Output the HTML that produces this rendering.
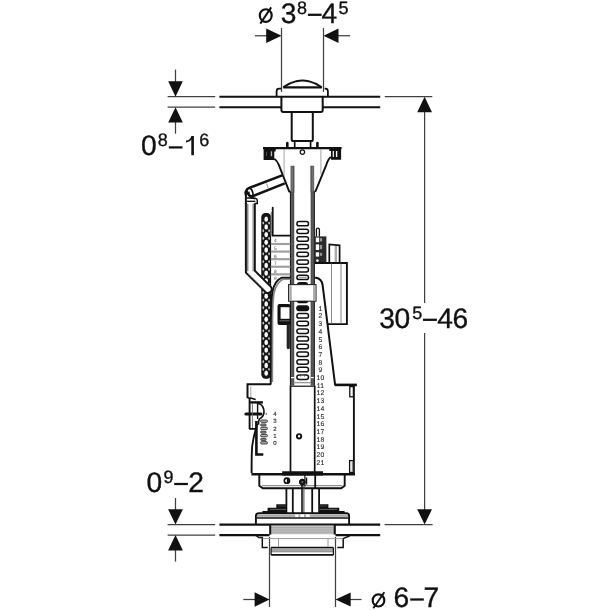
<!DOCTYPE html>
<html><head><meta charset="utf-8"><style>
html,body{margin:0;padding:0;background:#fff;}
svg{display:block;will-change:transform;}
text{font-family:"Liberation Sans",sans-serif;text-rendering:geometricPrecision;}
text.b{stroke:#111;stroke-width:0.35px;}
</style></head><body>
<svg width="610" height="610" viewBox="0 0 610 610">
<rect width="610" height="610" fill="#fff"/>
<line x1="254.9" y1="35.75" x2="267" y2="35.75" stroke="#404040" stroke-width="1.25" stroke-linecap="butt"/>
<polygon points="281.5,35.75 266.2,28.4 266.2,43.1" fill="#111"/>
<line x1="338" y1="35.75" x2="350.2" y2="35.75" stroke="#404040" stroke-width="1.25" stroke-linecap="butt"/>
<polygon points="323.5,35.75 338.5,28.4 338.5,43.1" fill="#111"/>
<line x1="281.5" y1="28.1" x2="281.5" y2="92" stroke="#404040" stroke-width="1.25" stroke-linecap="butt"/>
<line x1="323.5" y1="28.1" x2="323.5" y2="92" stroke="#404040" stroke-width="1.25" stroke-linecap="butt"/>
<line x1="167.6" y1="96.65" x2="215.2" y2="96.65" stroke="#404040" stroke-width="1.25" stroke-linecap="butt"/>
<line x1="167.6" y1="107.2" x2="215.2" y2="107.2" stroke="#404040" stroke-width="1.25" stroke-linecap="butt"/>
<line x1="167.6" y1="524.6" x2="215.2" y2="524.6" stroke="#404040" stroke-width="1.25" stroke-linecap="butt"/>
<line x1="167.6" y1="535.1" x2="215.2" y2="535.1" stroke="#404040" stroke-width="1.25" stroke-linecap="butt"/>
<line x1="219.4" y1="96.65" x2="380.2" y2="96.65" stroke="#111" stroke-width="2.05" stroke-linecap="butt"/>
<line x1="219.4" y1="107.2" x2="281.4" y2="107.2" stroke="#111" stroke-width="2.05" stroke-linecap="butt"/>
<line x1="322.7" y1="107.2" x2="380.2" y2="107.2" stroke="#111" stroke-width="2.05" stroke-linecap="butt"/>
<line x1="384.8" y1="96.65" x2="432.3" y2="96.65" stroke="#404040" stroke-width="1.25" stroke-linecap="butt"/>
<line x1="219.4" y1="524.6" x2="380.2" y2="524.6" stroke="#111" stroke-width="2.05" stroke-linecap="butt"/>
<line x1="219.4" y1="535.1" x2="269.5" y2="535.1" stroke="#111" stroke-width="2.05" stroke-linecap="butt"/>
<line x1="335.5" y1="535.1" x2="380.2" y2="535.1" stroke="#111" stroke-width="2.05" stroke-linecap="butt"/>
<line x1="384.6" y1="524.6" x2="432.6" y2="524.6" stroke="#404040" stroke-width="1.25" stroke-linecap="butt"/>
<line x1="175.5" y1="69.6" x2="175.5" y2="82" stroke="#404040" stroke-width="1.25" stroke-linecap="butt"/>
<polygon points="175.5,96.65 168.2,81.2 182.8,81.2" fill="#111"/>
<line x1="175.5" y1="121" x2="175.5" y2="133.7" stroke="#404040" stroke-width="1.25" stroke-linecap="butt"/>
<polygon points="175.5,107.2 168.2,122.6 182.8,122.6" fill="#111"/>
<line x1="175.5" y1="498" x2="175.5" y2="510" stroke="#404040" stroke-width="1.25" stroke-linecap="butt"/>
<polygon points="175.5,524.6 168.1,509.2 182.9,509.2" fill="#111"/>
<line x1="175.5" y1="549" x2="175.5" y2="561.6" stroke="#404040" stroke-width="1.25" stroke-linecap="butt"/>
<polygon points="175.5,535.1 168.1,550.5 182.9,550.5" fill="#111"/>
<line x1="424.6" y1="110" x2="424.6" y2="303" stroke="#404040" stroke-width="1.25" stroke-linecap="butt"/>
<line x1="424.6" y1="333" x2="424.6" y2="511" stroke="#404040" stroke-width="1.25" stroke-linecap="butt"/>
<polygon points="424.6,96.65 417.20000000000005,112.2 432.0,112.2" fill="#111"/>
<polygon points="424.6,524.6 417.20000000000005,509.3 432.0,509.3" fill="#111"/>
<line x1="269.5" y1="537" x2="269.5" y2="607" stroke="#404040" stroke-width="1.25" stroke-linecap="butt"/>
<line x1="335.5" y1="537" x2="335.5" y2="607" stroke="#404040" stroke-width="1.25" stroke-linecap="butt"/>
<line x1="243.3" y1="599.5" x2="256" y2="599.5" stroke="#404040" stroke-width="1.25" stroke-linecap="butt"/>
<polygon points="269.5,599.5 254.6,592.3 254.6,606.7" fill="#111"/>
<line x1="349" y1="599.5" x2="361.5" y2="599.5" stroke="#404040" stroke-width="1.25" stroke-linecap="butt"/>
<polygon points="335.5,599.5 350.7,592.5 350.7,606.5" fill="#111"/>
<ellipse cx="265.75" cy="15.55" rx="5.95" ry="6.3" fill="none" stroke="#111" stroke-width="2.15"/>
<line x1="260.3" y1="23.6" x2="271.2" y2="7.4" stroke="#111" stroke-width="1.9" stroke-linecap="butt"/>
<text x="280.63" y="23.1" font-size="28.2" fill="#111" text-anchor="start" class="b">3</text>
<text x="296.93" y="13.5" font-size="18.0" fill="#111" text-anchor="start" class="b">8</text>
<rect x="307.9" y="13.68" width="13.70" height="2.25" fill="#111"/>
<text x="321.55" y="23.1" font-size="28.2" fill="#111" text-anchor="start" class="b">4</text>
<text x="338.48" y="13.5" font-size="18.0" fill="#111" text-anchor="start" class="b">5</text>
<text x="140.9" y="155.3" font-size="28.2" fill="#111" text-anchor="start" class="b">0</text>
<text x="157.63" y="145.6" font-size="18.0" fill="#111" text-anchor="start" class="b">8</text>
<rect x="168.8" y="146.28" width="13.70" height="2.25" fill="#111"/>
<text x="199.28" y="145.6" font-size="18.0" fill="#111" text-anchor="start" class="b">6</text>
<path d="M191.3,155.2 L191.3,139.6 C190.2,141.4 188.4,142.2 186,142.5 L186,140.6 C189.1,140.2 190.6,138.6 191.4,135.9 L193.9,135.9 L193.9,155.2 Z" stroke="#111" stroke-width="0" fill="#111" />
<text x="379.33" y="328" font-size="28.2" fill="#111" text-anchor="start" class="b">3</text>
<text x="394.6" y="328" font-size="28.2" fill="#111" text-anchor="start" class="b">0</text>
<text x="412.28" y="318.5" font-size="18.0" fill="#111" text-anchor="start" class="b">5</text>
<rect x="423" y="318.68" width="13.90" height="2.25" fill="#111"/>
<text x="437.25" y="328" font-size="28.2" fill="#111" text-anchor="start" class="b">4</text>
<text x="452.46" y="328" font-size="28.2" fill="#111" text-anchor="start" class="b">6</text>
<text x="146.6" y="492.4" font-size="28.2" fill="#111" text-anchor="start" class="b">0</text>
<text x="163.45" y="482.8" font-size="18.0" fill="#111" text-anchor="start" class="b">9</text>
<rect x="174.2" y="482.88" width="13.70" height="2.25" fill="#111"/>
<text x="188.19" y="492.4" font-size="28.2" fill="#111" text-anchor="start" class="b">2</text>
<ellipse cx="378.5" cy="600.4" rx="5.8" ry="6.1" fill="none" stroke="#111" stroke-width="2.15"/>
<line x1="373.3" y1="608.2" x2="384.3" y2="592.3" stroke="#111" stroke-width="1.9" stroke-linecap="butt"/>
<text x="393.46" y="607.1" font-size="28.2" fill="#111" text-anchor="start" class="b">6</text>
<rect x="410.2" y="598.38" width="13.60" height="2.25" fill="#111"/>
<text x="423.56" y="607.1" font-size="28.2" fill="#111" text-anchor="start" class="b">7</text>
<path d="M283.2,87.2 Q290,82.8 296.4,81.2 Q302.5,79.9 308.6,81.2 Q315,82.8 321.8,87.2" stroke="#111" stroke-width="1.9" fill="#fff" />
<line x1="283.2" y1="87.3" x2="321.8" y2="87.3" stroke="#111" stroke-width="2.2" stroke-linecap="butt"/>
<path d="M276.6,96 L276.6,91.2 Q276.6,88.7 279.1,88.7 L281.2,88.7" stroke="#111" stroke-width="1.8" fill="none" />
<path d="M324.6,88.7 L325.4,88.7 Q327.9,88.7 327.9,91.2 L327.9,96" stroke="#111" stroke-width="1.8" fill="none" />
<path d="M281.4,96.4 L281.4,110 Q281.4,112 283.4,112 L320.7,112 Q322.7,112 322.7,110 L322.7,96.4" stroke="#111" stroke-width="2.0" fill="none" />
<path d="M291.7,112 L291.7,139.4 Q291.7,141 293.3,141 L311.2,141 Q312.8,141 312.8,139.4 L312.8,112" stroke="#111" stroke-width="2.0" fill="none" />
<path d="M294.7,141 L294.7,147.8 M310.6,141 L310.6,147.8" stroke="#111" stroke-width="1.7" fill="none" />
<line x1="287.3" y1="143" x2="287.3" y2="147.8" stroke="#111" stroke-width="2.6" stroke-linecap="round"/>
<line x1="317.4" y1="143" x2="317.4" y2="147.8" stroke="#111" stroke-width="2.6" stroke-linecap="round"/>
<line x1="263" y1="148.2" x2="341.6" y2="148.2" stroke="#111" stroke-width="2.2" stroke-linecap="butt"/>
<path d="M263.6,148.2 L263.6,160 L274.3,160 L274.3,151.5 L275.7,151.5 L275.7,148.2 Z" stroke="#111" stroke-width="0" fill="#111" />
<rect x="270.8" y="151.3" width="1.3" height="5" rx="0" fill="#bbb" stroke="none" stroke-width="0"/>
<rect x="266" y="152" width="0.8" height="4" rx="0" fill="#555" stroke="none" stroke-width="0"/>
<path d="M329.3,148.2 L341.1,148.2 L341.1,159.7 L331,159.7 L331,151 L329.3,151 Z" stroke="#111" stroke-width="0" fill="#111" />
<rect x="332.7" y="151" width="1.2" height="6" rx="0" fill="#fff" stroke="none" stroke-width="0"/>
<rect x="335.9" y="151" width="1.4" height="6" rx="0" fill="#fff" stroke="none" stroke-width="0"/>
<path d="M274.3,158.8 Q277,160.5 278.7,164.6 L289.2,191.4 L290.5,191.9" stroke="#111" stroke-width="1.9" fill="none" />
<path d="M331,157 Q328,159 326.4,164.6 L315.6,191.1 L314.4,191.6" stroke="#111" stroke-width="1.9" fill="none" />
<line x1="284.1" y1="149.2" x2="284.1" y2="176" stroke="#999" stroke-width="0.9" stroke-linecap="butt"/>
<line x1="320.9" y1="149.2" x2="320.9" y2="174.4" stroke="#999" stroke-width="0.9" stroke-linecap="butt"/>
<circle cx="302.4" cy="152.1" r="2.2" fill="#fff" stroke="#111" stroke-width="1.2"/>
<rect x="290.0" y="191.5" width="4.0" height="194" rx="0" fill="#5a5a5a" stroke="none" stroke-width="0"/>
<rect x="290.9" y="166" width="3.1" height="26" rx="0" fill="#707070" stroke="#444" stroke-width="0.5"/>
<rect x="289.9" y="191.5" width="1.1" height="194" rx="0" fill="#1a1a1a" stroke="none" stroke-width="0"/>
<rect x="310.9" y="191.5" width="3.9" height="194" rx="0" fill="#5a5a5a" stroke="none" stroke-width="0"/>
<rect x="310.9" y="166" width="3.0" height="26" rx="0" fill="#707070" stroke="#444" stroke-width="0.5"/>
<rect x="313.8" y="191.5" width="1.0" height="194" rx="0" fill="#1a1a1a" stroke="none" stroke-width="0"/>
<line x1="293.9" y1="166" x2="293.9" y2="385.5" stroke="#333" stroke-width="0.5" stroke-linecap="butt"/>
<line x1="311.0" y1="166" x2="311.0" y2="385.5" stroke="#333" stroke-width="0.5" stroke-linecap="butt"/>
<rect x="296.9" y="221.5" width="11.6" height="4.3" rx="2.15" fill="#fff" stroke="#111" stroke-width="1.5"/>
<rect x="296.9" y="229.18" width="11.6" height="4.3" rx="2.15" fill="#fff" stroke="#111" stroke-width="1.5"/>
<rect x="296.9" y="236.86" width="11.6" height="4.3" rx="2.15" fill="#fff" stroke="#111" stroke-width="1.5"/>
<rect x="296.9" y="244.54" width="11.6" height="4.3" rx="2.15" fill="#fff" stroke="#111" stroke-width="1.5"/>
<rect x="296.9" y="252.22" width="11.6" height="4.3" rx="2.15" fill="#fff" stroke="#111" stroke-width="1.5"/>
<rect x="296.9" y="259.9" width="11.6" height="4.3" rx="2.15" fill="#fff" stroke="#111" stroke-width="1.5"/>
<rect x="296.9" y="267.58" width="11.6" height="4.3" rx="2.15" fill="#fff" stroke="#111" stroke-width="1.5"/>
<rect x="296.9" y="275.26" width="11.6" height="4.3" rx="2.15" fill="#fff" stroke="#111" stroke-width="1.5"/>
<line x1="298.5" y1="277.3" x2="306.8" y2="277.3" stroke="#777" stroke-width="0.9" stroke-linecap="butt"/>
<path d="M296.7,285 Q296.9,282 300,282 L305,282 Q308.2,282 308.2,285 Z" stroke="#111" stroke-width="0" fill="#111" />
<rect x="288.6" y="284.6" width="27.4" height="16.6" rx="0" fill="#fff" stroke="#222" stroke-width="1.1"/>
<rect x="289.3" y="285.2" width="2.4" height="15.4" rx="0" fill="#a8a8a8" stroke="none" stroke-width="0"/>
<rect x="313.1" y="285.2" width="2.5" height="15.4" rx="0" fill="#a8a8a8" stroke="none" stroke-width="0"/>
<path d="M296.7,301 Q296.9,303.3 300,303.3 L305,303.3 Q308.2,303.3 308.2,301 Z" stroke="#111" stroke-width="0" fill="#111" />
<rect x="296.9" y="305.9" width="11.6" height="4.5" rx="2.2" fill="#111" stroke="#111" stroke-width="1.5"/>
<rect x="296.9" y="313.58" width="11.6" height="4.5" rx="2.2" fill="#fff" stroke="#111" stroke-width="1.5"/>
<rect x="296.9" y="321.26" width="11.6" height="4.5" rx="2.2" fill="#fff" stroke="#111" stroke-width="1.5"/>
<rect x="296.9" y="328.94" width="11.6" height="4.5" rx="2.2" fill="#fff" stroke="#111" stroke-width="1.5"/>
<rect x="296.9" y="336.62" width="11.6" height="4.5" rx="2.2" fill="#fff" stroke="#111" stroke-width="1.5"/>
<rect x="296.9" y="344.29999999999995" width="11.6" height="4.5" rx="2.2" fill="#fff" stroke="#111" stroke-width="1.5"/>
<rect x="296.9" y="351.97999999999996" width="11.6" height="4.5" rx="2.2" fill="#fff" stroke="#111" stroke-width="1.5"/>
<rect x="296.9" y="359.65999999999997" width="11.6" height="4.5" rx="2.2" fill="#fff" stroke="#111" stroke-width="1.5"/>
<rect x="296.9" y="367.34" width="11.6" height="4.5" rx="2.2" fill="#fff" stroke="#111" stroke-width="1.5"/>
<rect x="296.9" y="375.02" width="11.6" height="4.5" rx="2.2" fill="#fff" stroke="#111" stroke-width="1.5"/>
<line x1="293.5" y1="382.6" x2="311" y2="382.6" stroke="#9a9a9a" stroke-width="1.4" stroke-linecap="butt"/>
<rect x="291" y="377" width="3" height="1.2" rx="0" fill="#fff" stroke="none" stroke-width="0"/>
<rect x="311" y="377" width="2.8" height="1.2" rx="0" fill="#fff" stroke="none" stroke-width="0"/>
<path d="M300.5,376.6 L302.6,374.6 L304.7,376.6" stroke="#777" stroke-width="1.0" fill="none" />
<text x="320.4" y="310.75" font-size="6.8" fill="#262626" text-anchor="middle" stroke="#262626" stroke-width="0.1">1</text>
<text x="320.4" y="318.45" font-size="6.8" fill="#262626" text-anchor="middle" stroke="#262626" stroke-width="0.1">2</text>
<text x="320.4" y="326.15" font-size="6.8" fill="#262626" text-anchor="middle" stroke="#262626" stroke-width="0.1">3</text>
<text x="320.4" y="333.85" font-size="6.8" fill="#262626" text-anchor="middle" stroke="#262626" stroke-width="0.1">4</text>
<text x="320.4" y="341.55" font-size="6.8" fill="#262626" text-anchor="middle" stroke="#262626" stroke-width="0.1">5</text>
<text x="320.4" y="349.25" font-size="6.8" fill="#262626" text-anchor="middle" stroke="#262626" stroke-width="0.1">6</text>
<text x="320.4" y="356.95" font-size="6.8" fill="#262626" text-anchor="middle" stroke="#262626" stroke-width="0.1">7</text>
<text x="320.4" y="364.65" font-size="6.8" fill="#262626" text-anchor="middle" stroke="#262626" stroke-width="0.1">8</text>
<text x="320.4" y="372.35" font-size="6.8" fill="#262626" text-anchor="middle" stroke="#262626" stroke-width="0.1">9</text>
<text x="320.4" y="380.05" font-size="6.8" fill="#262626" text-anchor="middle" stroke="#262626" stroke-width="0.1">10</text>
<text x="320.4" y="387.75" font-size="6.8" fill="#262626" text-anchor="middle" stroke="#262626" stroke-width="0.1">11</text>
<text x="320.4" y="395.45" font-size="6.8" fill="#262626" text-anchor="middle" stroke="#262626" stroke-width="0.1">12</text>
<text x="320.4" y="403.15000000000003" font-size="6.8" fill="#262626" text-anchor="middle" stroke="#262626" stroke-width="0.1">13</text>
<text x="320.4" y="410.85" font-size="6.8" fill="#262626" text-anchor="middle" stroke="#262626" stroke-width="0.1">14</text>
<text x="320.4" y="418.55" font-size="6.8" fill="#262626" text-anchor="middle" stroke="#262626" stroke-width="0.1">15</text>
<text x="320.4" y="426.25" font-size="6.8" fill="#262626" text-anchor="middle" stroke="#262626" stroke-width="0.1">16</text>
<text x="320.4" y="433.95" font-size="6.8" fill="#262626" text-anchor="middle" stroke="#262626" stroke-width="0.1">17</text>
<text x="320.4" y="441.65000000000003" font-size="6.8" fill="#262626" text-anchor="middle" stroke="#262626" stroke-width="0.1">18</text>
<text x="320.4" y="449.34999999999997" font-size="6.8" fill="#262626" text-anchor="middle" stroke="#262626" stroke-width="0.1">19</text>
<text x="320.4" y="457.05" font-size="6.8" fill="#262626" text-anchor="middle" stroke="#262626" stroke-width="0.1">20</text>
<text x="320.4" y="464.75" font-size="6.8" fill="#262626" text-anchor="middle" stroke="#262626" stroke-width="0.1">21</text>
<path d="M282.8,175.2 L249.2,187.9 C245.4,189.4 245.2,193.5 246.2,195 M248.3,191.6 C248.4,195.6 250.4,196.8 252.6,196.2 L284.8,183.4" stroke="#111" stroke-width="2.5" fill="none" />
<path d="M249.9,196.4 Q252.5,198.6 255.2,198.7" stroke="#111" stroke-width="1.4" fill="none" />
<ellipse cx="250.0" cy="192.3" rx="2.6" ry="4.3" transform="rotate(-22 250.0 192.3)" fill="none" stroke="#111" stroke-width="1.6"/>
<line x1="266.6" y1="183.4" x2="268.3" y2="188.6" stroke="#777" stroke-width="0.8" stroke-linecap="butt"/>
<path d="M247.0,198.0 Q251,197.9 255.2,198.3 Q257.3,198.7 257.3,200.6 L257.3,203.4 L255.0,203.4" stroke="#111" stroke-width="1.5" fill="none" />
<line x1="246.9" y1="201.3" x2="255.4" y2="201.3" stroke="#111" stroke-width="1.3" stroke-linecap="butt"/>
<rect x="261.9" y="213.6" width="8.6" height="164.6" rx="3.6" fill="#161616" stroke="#111" stroke-width="1.2"/>
<ellipse cx="266.2" cy="219.20" rx="1.8" ry="2.65" fill="#fff"/>
<ellipse cx="263.3" cy="223.05" rx="0.9" ry="1.4" fill="#c4c4c4"/>
<ellipse cx="269.1" cy="223.05" rx="0.9" ry="1.4" fill="#c4c4c4"/>
<ellipse cx="266.2" cy="226.90" rx="1.8" ry="2.65" fill="#fff"/>
<ellipse cx="263.3" cy="230.75" rx="0.9" ry="1.4" fill="#c4c4c4"/>
<ellipse cx="269.1" cy="230.75" rx="0.9" ry="1.4" fill="#c4c4c4"/>
<ellipse cx="266.2" cy="234.60" rx="1.8" ry="2.65" fill="#fff"/>
<ellipse cx="263.3" cy="238.45" rx="0.9" ry="1.4" fill="#c4c4c4"/>
<ellipse cx="269.1" cy="238.45" rx="0.9" ry="1.4" fill="#c4c4c4"/>
<ellipse cx="266.2" cy="242.30" rx="1.8" ry="2.65" fill="#fff"/>
<ellipse cx="263.3" cy="246.15" rx="0.9" ry="1.4" fill="#c4c4c4"/>
<ellipse cx="269.1" cy="246.15" rx="0.9" ry="1.4" fill="#c4c4c4"/>
<ellipse cx="266.2" cy="250.00" rx="1.8" ry="2.65" fill="#fff"/>
<ellipse cx="263.3" cy="253.85" rx="0.9" ry="1.4" fill="#c4c4c4"/>
<ellipse cx="269.1" cy="253.85" rx="0.9" ry="1.4" fill="#c4c4c4"/>
<ellipse cx="266.2" cy="257.70" rx="1.8" ry="2.65" fill="#fff"/>
<ellipse cx="263.3" cy="261.55" rx="0.9" ry="1.4" fill="#c4c4c4"/>
<ellipse cx="269.1" cy="261.55" rx="0.9" ry="1.4" fill="#c4c4c4"/>
<ellipse cx="266.2" cy="265.40" rx="1.8" ry="2.65" fill="#fff"/>
<ellipse cx="263.3" cy="269.25" rx="0.9" ry="1.4" fill="#c4c4c4"/>
<ellipse cx="269.1" cy="269.25" rx="0.9" ry="1.4" fill="#c4c4c4"/>
<ellipse cx="266.2" cy="273.10" rx="1.8" ry="2.65" fill="#fff"/>
<ellipse cx="263.3" cy="276.95" rx="0.9" ry="1.4" fill="#c4c4c4"/>
<ellipse cx="269.1" cy="276.95" rx="0.9" ry="1.4" fill="#c4c4c4"/>
<ellipse cx="266.2" cy="280.80" rx="1.8" ry="2.65" fill="#fff"/>
<ellipse cx="263.3" cy="284.65" rx="0.9" ry="1.4" fill="#c4c4c4"/>
<ellipse cx="269.1" cy="284.65" rx="0.9" ry="1.4" fill="#c4c4c4"/>
<ellipse cx="266.2" cy="288.50" rx="1.8" ry="2.65" fill="#fff"/>
<ellipse cx="263.3" cy="292.35" rx="0.9" ry="1.4" fill="#c4c4c4"/>
<ellipse cx="269.1" cy="292.35" rx="0.9" ry="1.4" fill="#c4c4c4"/>
<ellipse cx="266.2" cy="296.20" rx="1.8" ry="2.65" fill="#fff"/>
<ellipse cx="263.3" cy="300.05" rx="0.9" ry="1.4" fill="#c4c4c4"/>
<ellipse cx="269.1" cy="300.05" rx="0.9" ry="1.4" fill="#c4c4c4"/>
<ellipse cx="266.2" cy="303.90" rx="1.8" ry="2.65" fill="#fff"/>
<ellipse cx="263.3" cy="307.75" rx="0.9" ry="1.4" fill="#c4c4c4"/>
<ellipse cx="269.1" cy="307.75" rx="0.9" ry="1.4" fill="#c4c4c4"/>
<ellipse cx="266.2" cy="311.60" rx="1.8" ry="2.65" fill="#fff"/>
<ellipse cx="263.3" cy="315.45" rx="0.9" ry="1.4" fill="#c4c4c4"/>
<ellipse cx="269.1" cy="315.45" rx="0.9" ry="1.4" fill="#c4c4c4"/>
<ellipse cx="266.2" cy="319.30" rx="1.8" ry="2.65" fill="#fff"/>
<ellipse cx="263.3" cy="323.15" rx="0.9" ry="1.4" fill="#c4c4c4"/>
<ellipse cx="269.1" cy="323.15" rx="0.9" ry="1.4" fill="#c4c4c4"/>
<ellipse cx="266.2" cy="327.00" rx="1.8" ry="2.65" fill="#fff"/>
<ellipse cx="263.3" cy="330.85" rx="0.9" ry="1.4" fill="#c4c4c4"/>
<ellipse cx="269.1" cy="330.85" rx="0.9" ry="1.4" fill="#c4c4c4"/>
<ellipse cx="266.2" cy="334.70" rx="1.8" ry="2.65" fill="#fff"/>
<ellipse cx="263.3" cy="338.55" rx="0.9" ry="1.4" fill="#c4c4c4"/>
<ellipse cx="269.1" cy="338.55" rx="0.9" ry="1.4" fill="#c4c4c4"/>
<ellipse cx="266.2" cy="342.40" rx="1.8" ry="2.65" fill="#fff"/>
<ellipse cx="263.3" cy="346.25" rx="0.9" ry="1.4" fill="#c4c4c4"/>
<ellipse cx="269.1" cy="346.25" rx="0.9" ry="1.4" fill="#c4c4c4"/>
<ellipse cx="266.2" cy="350.10" rx="1.8" ry="2.65" fill="#fff"/>
<ellipse cx="263.3" cy="353.95" rx="0.9" ry="1.4" fill="#c4c4c4"/>
<ellipse cx="269.1" cy="353.95" rx="0.9" ry="1.4" fill="#c4c4c4"/>
<ellipse cx="266.2" cy="357.80" rx="1.8" ry="2.65" fill="#fff"/>
<ellipse cx="263.3" cy="361.65" rx="0.9" ry="1.4" fill="#c4c4c4"/>
<ellipse cx="269.1" cy="361.65" rx="0.9" ry="1.4" fill="#c4c4c4"/>
<ellipse cx="266.2" cy="365.50" rx="1.8" ry="2.65" fill="#fff"/>
<ellipse cx="263.3" cy="369.35" rx="0.9" ry="1.4" fill="#c4c4c4"/>
<ellipse cx="269.1" cy="369.35" rx="0.9" ry="1.4" fill="#c4c4c4"/>
<ellipse cx="266.2" cy="373.20" rx="1.8" ry="2.65" fill="#fff"/>
<rect x="270.6" y="212" width="1.6" height="23.5" rx="0" fill="#999" stroke="none" stroke-width="0"/>
<path d="M272.7,207.6 L272.7,235.6 L290.5,235.6" stroke="#111" stroke-width="1.8" fill="none" stroke-linecap="round"/>
<line x1="270.8" y1="244.0" x2="290.3" y2="244.0" stroke="#a0a0a0" stroke-width="2.2" stroke-linecap="butt"/>
<text x="275.4" y="242.4" font-size="4.8" fill="#444" text-anchor="middle" >4</text>
<line x1="270.8" y1="251.58" x2="290.3" y2="251.58" stroke="#a0a0a0" stroke-width="2.2" stroke-linecap="butt"/>
<text x="275.4" y="249.98000000000002" font-size="4.8" fill="#444" text-anchor="middle" >5</text>
<line x1="270.8" y1="259.16" x2="290.3" y2="259.16" stroke="#a0a0a0" stroke-width="2.2" stroke-linecap="butt"/>
<text x="275.4" y="257.56" font-size="4.8" fill="#444" text-anchor="middle" >6</text>
<line x1="270.8" y1="266.74" x2="290.3" y2="266.74" stroke="#a0a0a0" stroke-width="2.2" stroke-linecap="butt"/>
<text x="275.4" y="265.14000000000004" font-size="4.8" fill="#444" text-anchor="middle" >7</text>
<line x1="270.8" y1="274.32" x2="290.3" y2="274.32" stroke="#a0a0a0" stroke-width="2.2" stroke-linecap="butt"/>
<text x="275.4" y="272.72" font-size="4.8" fill="#444" text-anchor="middle" >8</text>
<text x="275.4" y="280.3" font-size="4.8" fill="#444" text-anchor="middle" >9</text>
<path d="M245.9,203.2 L245.9,272.6 L265.4,291.9 A3.75,3.75 0 0 0 270.7,286.6 L254.8,270.6 L254.8,203.2" stroke="#111" stroke-width="2.0" fill="#fff" />
<line x1="245.9" y1="192" x2="245.9" y2="204" stroke="#111" stroke-width="2.0" stroke-linecap="butt"/>
<defs><linearGradient id="rg" x1="0" x2="1" y1="0" y2="0"><stop offset="0" stop-color="#555"/><stop offset="0.35" stop-color="#fff"/><stop offset="0.65" stop-color="#fff"/><stop offset="1" stop-color="#777"/></linearGradient></defs>
<rect x="246.8" y="203.8" width="7.1" height="67.5" rx="0" fill="url(#rg)" stroke="none" stroke-width="0"/>
<line x1="248.2" y1="273.6" x2="266.2" y2="291.4" stroke="#999" stroke-width="0.9" stroke-linecap="butt"/>
<path d="M316.4,236.4 L316.4,229.4 Q316.4,228.1 317.9,228.1 Q319.4,228.1 319.4,229.4 L319.4,236.4" stroke="#111" stroke-width="1.3" fill="#fff" />
<rect x="314.9" y="236.4" width="11.5" height="26" rx="0" fill="#2a2a2a" stroke="none" stroke-width="0"/>
<rect x="315.8" y="237.6" width="3.3" height="4.6" rx="0" fill="#fff" stroke="none" stroke-width="0"/>
<rect x="319.8" y="238.2" width="2.3" height="3.1999999999999997" rx="0" fill="#999" stroke="none" stroke-width="0"/>
<rect x="315.8" y="244.4" width="3.3" height="5.6" rx="0" fill="#fff" stroke="none" stroke-width="0"/>
<rect x="319.8" y="245.0" width="2.3" height="4.199999999999999" rx="0" fill="#999" stroke="none" stroke-width="0"/>
<rect x="315.8" y="252.3" width="3.3" height="4.3" rx="0" fill="#fff" stroke="none" stroke-width="0"/>
<rect x="319.8" y="252.9" width="2.3" height="2.9" rx="0" fill="#999" stroke="none" stroke-width="0"/>
<circle cx="317.4" cy="260.6" r="1.3" fill="#fff" stroke="none" stroke-width="0"/>
<path d="M329.3,263 L329.3,244.4 L339.6,245.3 L339.6,263" stroke="#111" stroke-width="1.7" fill="#fff" />
<rect x="334.6" y="246" width="2.4" height="16" rx="0" fill="#aaa" stroke="none" stroke-width="0"/>
<path d="M314.9,263 L346.9,263 L346.9,324.1 L327.6,324.1" stroke="#111" stroke-width="1.9" fill="none" />
<line x1="331.5" y1="263.5" x2="331.5" y2="323.5" stroke="#777" stroke-width="0.9" stroke-linecap="butt"/>
<line x1="341" y1="263.5" x2="341" y2="323.5" stroke="#777" stroke-width="0.9" stroke-linecap="butt"/>
<path d="M272.3,382 L272.5,320 Q272.8,302 273.8,294 Q276,282.6 283,279.2 L290.5,279.2" stroke="#888" stroke-width="1.7" fill="none" />
<path d="M270.7,384.3 L270.9,320 Q271.2,300 272.3,292 Q274.5,280.5 282,277.6 L290.5,277.6" stroke="#111" stroke-width="1.9" fill="none" />
<path d="M314.7,277.8 L316,277.8 Q321.5,278.5 322.6,285 L335.1,384.8" stroke="#111" stroke-width="2.0" fill="none" />
<path d="M271.2,384.3 L247.5,384.3 L247.5,398" stroke="#111" stroke-width="2.0" fill="none" />
<line x1="250.8" y1="386.5" x2="250.8" y2="397" stroke="#999" stroke-width="0.9" stroke-linecap="butt"/>
<line x1="334.5" y1="384.9" x2="356.9" y2="384.9" stroke="#111" stroke-width="2.6" stroke-linecap="butt"/>
<line x1="353.9" y1="384.7" x2="353.9" y2="474" stroke="#111" stroke-width="1.9" stroke-linecap="butt"/>
<rect x="349.6" y="460.6" width="3.8" height="11.8" rx="0" fill="#fff" stroke="#111" stroke-width="1.3"/>
<rect x="351.8" y="461.5" width="1.4" height="10.5" rx="0" fill="#888" stroke="none" stroke-width="0"/>
<rect x="349.8" y="386.6" width="3.6" height="10.2" rx="0" fill="#fff" stroke="#111" stroke-width="1.3"/>
<line x1="290.5" y1="385.5" x2="290.5" y2="472" stroke="#111" stroke-width="1.7" stroke-linecap="butt"/>
<line x1="314.7" y1="385.5" x2="314.7" y2="472" stroke="#111" stroke-width="1.7" stroke-linecap="butt"/>
<line x1="290.5" y1="386.2" x2="314.7" y2="386.2" stroke="#111" stroke-width="1.2" stroke-linecap="butt"/>
<circle cx="299.1" cy="436.3" r="2.2" fill="#fff" stroke="#111" stroke-width="1.9"/>
<rect x="277.5" y="304" width="13" height="21" rx="2" fill="#111" stroke="none" stroke-width="0"/>
<rect x="280.6" y="307.2" width="8.9" height="11.6" rx="0" fill="#fff" stroke="none" stroke-width="0"/>
<line x1="279.5" y1="320.8" x2="289.5" y2="320.8" stroke="#888" stroke-width="0.8" stroke-linecap="butt"/>
<path d="M286.7,324 L286.7,347.8 Q286.7,349.2 288.3,349.2 Q289.9,349.2 289.9,347.8 L289.9,324 Z" stroke="#111" stroke-width="0" fill="#222" />
<path d="M247.5,398 L250.5,398 L255.7,399.6" stroke="#111" stroke-width="1.6" fill="none" />
<line x1="250.2" y1="402.4" x2="262.9" y2="402.4" stroke="#111" stroke-width="2.4" stroke-linecap="butt"/>
<path d="M257.6,403.5 Q261.5,404 262.6,406.5 Q264.2,409.5 264,412 Q263.8,416 261.5,417.5 Q259,418.8 258.6,421 L258.6,424.7" stroke="#111" stroke-width="1.6" fill="none" />
<line x1="245.9" y1="413.9" x2="261" y2="413.9" stroke="#111" stroke-width="3.0" stroke-linecap="round"/>
<line x1="249.6" y1="398" x2="249.6" y2="429" stroke="#111" stroke-width="1.9" stroke-linecap="butt"/>
<line x1="252.4" y1="404" x2="252.4" y2="428" stroke="#666" stroke-width="0.9" stroke-linecap="butt"/>
<line x1="257.6" y1="402" x2="257.6" y2="419" stroke="#111" stroke-width="1.4" stroke-linecap="butt"/>
<line x1="249.2" y1="428.9" x2="256" y2="428.9" stroke="#111" stroke-width="1.8" stroke-linecap="butt"/>
<path d="M256.4,421 L256.4,454.5 L263.3,454.5" stroke="#111" stroke-width="2.6" fill="none" />
<path d="M257.2,424 Q253.5,436 252.2,446 Q251.6,452 251.6,473" stroke="#111" stroke-width="1.9" fill="none" />
<rect x="260.6" y="420.0" width="6.9" height="2.4" rx="1.2" fill="#b0b0b0" stroke="#333" stroke-width="0.9"/>
<rect x="260.6" y="427.2" width="6.9" height="2.4" rx="1.2" fill="#b0b0b0" stroke="#333" stroke-width="0.9"/>
<rect x="260.6" y="434.4" width="6.9" height="2.4" rx="1.2" fill="#b0b0b0" stroke="#333" stroke-width="0.9"/>
<rect x="260.6" y="441.6" width="6.9" height="2.4" rx="1.2" fill="#b0b0b0" stroke="#333" stroke-width="0.9"/>
<rect x="260.6" y="423.9" width="5.6" height="2.1" rx="1.0" fill="#888" stroke="#333" stroke-width="0.8"/>
<rect x="260.6" y="431.09999999999997" width="5.6" height="2.1" rx="1.0" fill="#888" stroke="#333" stroke-width="0.8"/>
<rect x="260.6" y="438.29999999999995" width="5.6" height="2.1" rx="1.0" fill="#888" stroke="#333" stroke-width="0.8"/>
<text x="275.0" y="416.3" font-size="6.0" fill="#222" text-anchor="middle" stroke="#222" stroke-width="0.12">4</text>
<text x="275.0" y="423.45" font-size="6.0" fill="#222" text-anchor="middle" stroke="#222" stroke-width="0.12">3</text>
<text x="275.0" y="430.6" font-size="6.0" fill="#222" text-anchor="middle" stroke="#222" stroke-width="0.12">2</text>
<text x="275.0" y="437.75" font-size="6.0" fill="#222" text-anchor="middle" stroke="#222" stroke-width="0.12">1</text>
<text x="275.0" y="444.90000000000003" font-size="6.0" fill="#222" text-anchor="middle" stroke="#222" stroke-width="0.12">0</text>
<circle cx="266.3" cy="413.9" r="0.8" fill="#666" stroke="none" stroke-width="0"/>
<line x1="251.4" y1="474.3" x2="355" y2="474.3" stroke="#111" stroke-width="2.4" stroke-linecap="butt"/>
<line x1="282.2" y1="473.3" x2="323" y2="473.3" stroke="#111" stroke-width="4.2" stroke-linecap="butt"/>
<path d="M259.3,474.5 L259.3,485.7 L262.8,488.3 L341.2,488.3 L344.7,485.7 L344.7,474.5" stroke="#111" stroke-width="1.9" fill="none" />
<line x1="261.8" y1="485.7" x2="342.3" y2="485.7" stroke="#777" stroke-width="1.0" stroke-linecap="butt"/>
<line x1="304.9" y1="474.5" x2="304.9" y2="486.6" stroke="#111" stroke-width="1.2" stroke-linecap="butt"/>
<line x1="315.2" y1="474.5" x2="315.2" y2="488.6" stroke="#111" stroke-width="1.8" stroke-linecap="butt"/>
<circle cx="286.9" cy="480.7" r="2.6" fill="#fff" stroke="#111" stroke-width="1.6"/>
<path d="M286.9,478.1 A2.6,2.6 0 0 1 286.9,483.3 Z" stroke="#111" stroke-width="0" fill="#111" />
<circle cx="302.3" cy="482.0" r="2.9" fill="#111" stroke="#111" stroke-width="1.0"/>
<circle cx="302.3" cy="482.0" r="1.0" fill="#777" stroke="none" stroke-width="0"/>
<line x1="306.6" y1="477.5" x2="306.6" y2="484.5" stroke="#111" stroke-width="1.3" stroke-linecap="butt"/>
<line x1="286.4" y1="488.3" x2="286.4" y2="513" stroke="#111" stroke-width="1.8" stroke-linecap="butt"/>
<line x1="292.8" y1="488.3" x2="292.8" y2="513" stroke="#111" stroke-width="1.8" stroke-linecap="butt"/>
<line x1="302.0" y1="485" x2="302.0" y2="513" stroke="#111" stroke-width="1.6" stroke-linecap="butt"/>
<line x1="303.9" y1="485" x2="303.9" y2="513" stroke="#444" stroke-width="1.0" stroke-linecap="butt"/>
<line x1="312.2" y1="488.3" x2="312.2" y2="513" stroke="#111" stroke-width="1.8" stroke-linecap="butt"/>
<line x1="319.1" y1="488.3" x2="319.1" y2="513" stroke="#111" stroke-width="1.8" stroke-linecap="butt"/>
<path d="M286.4,504.3 L276.3,504.3 L276.3,507.8 L267.6,507.8 L267.6,510.9 L262.4,510.9 L262.4,513.2 L286.4,513.2 Z" stroke="#111" stroke-width="0" fill="#111" />
<line x1="270" y1="509.4" x2="286" y2="509.4" stroke="#777" stroke-width="0.8" stroke-linecap="butt"/>
<line x1="278" y1="506" x2="286" y2="506" stroke="#666" stroke-width="0.6" stroke-linecap="butt"/>
<path d="M319.1,504.3 L328.4,504.3 L328.4,507.8 L339.2,507.8 L339.2,510.9 L344.6,510.9 L344.6,513.2 L319.1,513.2 Z" stroke="#111" stroke-width="0" fill="#111" />
<line x1="319.5" y1="509.4" x2="337" y2="509.4" stroke="#777" stroke-width="0.8" stroke-linecap="butt"/>
<line x1="319.5" y1="506" x2="327" y2="506" stroke="#666" stroke-width="0.6" stroke-linecap="butt"/>
<path d="M255.9,524 L255.9,516 Q255.9,513.2 258.9,513.2 L346.3,513.2 Q349.1,513.2 349.1,516 L349.1,524" stroke="#111" stroke-width="1.9" fill="none" />
<rect x="257" y="514.7" width="91" height="2.2" rx="0" fill="#aaa" stroke="none" stroke-width="0"/>
<rect x="295.2" y="514.4" width="3.1999999999999886" height="2.6" rx="0" fill="#fff" stroke="none" stroke-width="0"/>
<rect x="300.3" y="514.4" width="3.6999999999999886" height="2.6" rx="0" fill="#fff" stroke="none" stroke-width="0"/>
<rect x="305.9" y="514.4" width="3.7000000000000455" height="2.6" rx="0" fill="#fff" stroke="none" stroke-width="0"/>
<line x1="256.5" y1="518" x2="348.5" y2="518" stroke="#111" stroke-width="1.3" stroke-linecap="butt"/>
<rect x="269.6" y="525.4" width="65.6" height="8.8" rx="0" fill="#a8a8a8" stroke="none" stroke-width="0"/>
<line x1="271" y1="526.6" x2="333" y2="526.6" stroke="#d8d8d8" stroke-width="0.6" stroke-linecap="butt"/>
<line x1="271" y1="528.8000000000001" x2="333" y2="528.8000000000001" stroke="#d8d8d8" stroke-width="0.6" stroke-linecap="butt"/>
<line x1="271" y1="531.0" x2="333" y2="531.0" stroke="#d8d8d8" stroke-width="0.6" stroke-linecap="butt"/>
<line x1="271" y1="533.2" x2="333" y2="533.2" stroke="#d8d8d8" stroke-width="0.6" stroke-linecap="butt"/>
<line x1="270.2" y1="525" x2="270.2" y2="534.6" stroke="#111" stroke-width="2.0" stroke-linecap="butt"/>
<line x1="334.8" y1="525" x2="334.8" y2="534.6" stroke="#111" stroke-width="2.0" stroke-linecap="butt"/>
<path d="M255.9,535.5 L258.9,537.6 L262.3,537.6 L262.3,547.5 L267.7,547.5" stroke="#111" stroke-width="1.5" fill="none" />
<path d="M349.6,536 L344.2,538.1 L343.2,538.6 L343.2,547.5 L337.3,547.5" stroke="#111" stroke-width="1.5" fill="none" />
<line x1="262.5" y1="538.6" x2="343" y2="538.6" stroke="#999" stroke-width="1.0" stroke-linecap="butt"/>
<line x1="278.5" y1="538.6" x2="278.5" y2="546.5" stroke="#999" stroke-width="1.0" stroke-linecap="butt"/>
<line x1="328" y1="538.6" x2="328" y2="546.5" stroke="#999" stroke-width="1.0" stroke-linecap="butt"/>
<line x1="271.1" y1="547.6" x2="333.4" y2="547.6" stroke="#111" stroke-width="1.9" stroke-linecap="butt"/>
<rect x="271.1" y="548.4" width="62.3" height="3.5" rx="0" fill="#a5a5a5" stroke="none" stroke-width="0"/>
<line x1="271.1" y1="551.9" x2="333.4" y2="551.9" stroke="#777" stroke-width="0.7" stroke-linecap="butt"/>
<line x1="271.1" y1="554.9" x2="333.4" y2="554.9" stroke="#111" stroke-width="1.9" stroke-linecap="butt"/>
<line x1="271.1" y1="547.5" x2="271.1" y2="555.1" stroke="#111" stroke-width="1.2" stroke-linecap="butt"/>
<line x1="333.4" y1="547.5" x2="333.4" y2="555.1" stroke="#111" stroke-width="1.2" stroke-linecap="butt"/>
</svg>
</body></html>
